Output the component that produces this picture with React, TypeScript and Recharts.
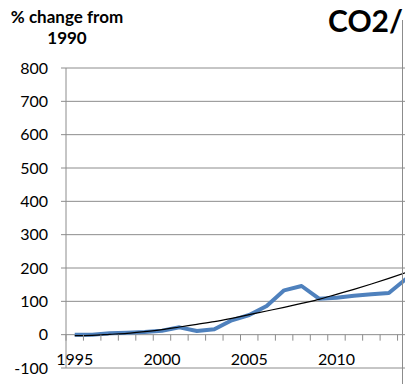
import React from "react";
import { LineChart, Line, XAxis, YAxis, CartesianGrid } from "recharts";

const years = [1995, 1996, 1997, 1998, 1999, 2000, 2001, 2002, 2003, 2004, 2005, 2006, 2007, 2008, 2009, 2010, 2011, 2012, 2013, 2014];
const co2Change = [0, 0, 4, 6, 8, 12, 22, 11, 16, 43, 59, 86, 133, 146, 108, 111, 117, 121, 125, 168];
const trendValues = [-3, -2, 1, 4, 9, 15, 23, 31, 39, 49, 60, 71, 82, 94, 106, 121, 136, 152, 169, 187];
const yTicks = [-100, 0, 100, 200, 300, 400, 500, 600, 700, 800];
const xLabelYears = [1995, 2000, 2005, 2010];
const xBoundaries = [1994.5, 1995.5, 1996.5, 1997.5, 1998.5, 1999.5, 2000.5, 2001.5, 2002.5, 2003.5, 2004.5, 2005.5, 2006.5, 2007.5, 2008.5, 2009.5, 2010.5, 2011.5, 2012.5, 2013.5, 2014.5];
const yAxisTitle = ["% change from", "1990"];
const chartTitle = "CO2/";

const data = years.map((y, i) => ({ year: y, co2: co2Change[i], trend: trendValues[i] }));

const FONT = "Lato, 'Open Sans', sans-serif";
const GRID = "#8c8c8c";
const CHART_W = 416;
const CHART_H = 384;
const M_TOP = 68;
const X_AXIS_H = 16;
const Y_MIN = -100;
const Y_MAX = 800;
const PLOT_H = CHART_H - M_TOP - X_AXIS_H;
const ZERO_Y = M_TOP + (PLOT_H * (Y_MAX - 0)) / (Y_MAX - Y_MIN);

const XTick = (props: any) => {
  const { x, payload } = props;
  const v = payload.value as number;
  const isBoundary = Math.abs(v - Math.round(v)) > 0.1;
  if (isBoundary) {
    return <line x1={x} x2={x} y1={ZERO_Y} y2={ZERO_Y + 6} stroke={GRID} strokeWidth={1} />;
  }
  return (
    <text x={x} y={ZERO_Y + 25} dy="0.35em" textAnchor="middle" fontFamily={FONT} fontSize={16} fill="#000">
      {v}
    </text>
  );
};

const xTickValues = [...xBoundaries, ...xLabelYears].sort((a, b) => a - b);

export default function App() {
  return (
    <div style={{ position: "absolute", left: 0, top: 0, width: 405, height: 384, overflow: "hidden", background: "#fff" }}>
      <LineChart width={CHART_W} height={CHART_H} data={data} margin={{ top: M_TOP, right: 1, bottom: 0, left: 0 }}>
        <CartesianGrid vertical={false} stroke={GRID} strokeWidth={1} />
        <XAxis
          dataKey="year"
          type="number"
          domain={[1994.5, 2014.5]}
          ticks={xTickValues}
          interval={0}
          tick={<XTick />}
          tickLine={false}
          axisLine={false}
          tickSize={0}
          height={X_AXIS_H}
          allowDataOverflow
        />
        <YAxis
          domain={[Y_MIN, Y_MAX]}
          ticks={yTicks}
          interval={0}
          width={66}
          tickSize={5}
          tickMargin={13}
          tickLine={{ stroke: GRID }}
          axisLine={{ stroke: GRID }}
          tick={{ fontFamily: FONT, fontSize: 16, fill: "#000" }}
        />
        <Line type="linear" dataKey="co2" stroke="#4F81BD" strokeWidth={4} dot={false} isAnimationActive={false} strokeLinejoin="round" />
        <Line type="monotone" dataKey="trend" stroke="#000" strokeWidth={1.2} dot={false} isAnimationActive={false} />
      </LineChart>
      <div
        style={{
          position: "absolute",
          left: 0,
          top: 6,
          width: 134,
          textAlign: "center",
          fontFamily: FONT,
          fontWeight: 700,
          fontSize: 17,
          lineHeight: "21px",
          color: "#000",
        }}
      >
        {yAxisTitle.map((t) => (
          <div key={t}>{t}</div>
        ))}
      </div>
      <div
        style={{
          position: "absolute",
          left: 328,
          top: 2,
          fontFamily: FONT,
          fontWeight: 700,
          fontSize: 30,
          lineHeight: "36px",
          color: "#000",
          whiteSpace: "nowrap",
        }}
      >
        {chartTitle}
      </div>
      <div style={{ position: "absolute", left: 402, top: 20, width: 1, height: 364, background: GRID }} />
    </div>
  );
}
